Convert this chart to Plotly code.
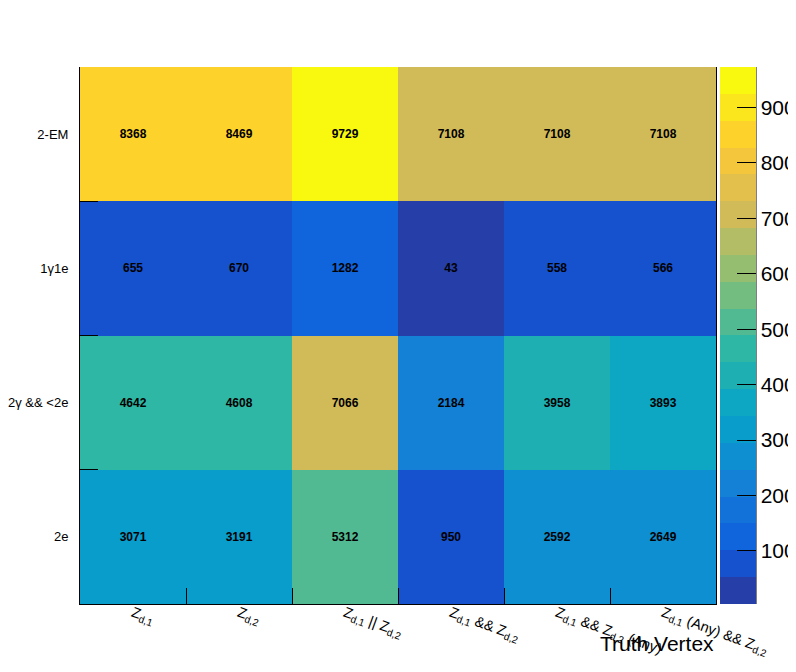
import numpy as np
import plotly.graph_objects as go

# ---- data -------------------------------------------------------------
x_labels = [
    "Z<sub>d,1</sub>",
    "Z<sub>d,2</sub>",
    "Z<sub>d,1</sub> || Z<sub>d,2</sub>",
    "Z<sub>d,1</sub> && Z<sub>d,2</sub>",
    "Z<sub>d,1</sub> && Z<sub>d,2</sub> (Any)",
    "Z<sub>d,1</sub> (Any) && Z<sub>d,2</sub>",
]
y_labels = ["2e", "2γ && <2e", "1γ1e", "2-EM"]  # bottom -> top

row_2e = [3071, 3191, 5312, 950, 2592, 2649]
row_2g_lt2e = [4642, 4608, 7066, 2184, 3958, 3893]
row_1g1e = [655, 670, 1282, 43, 558, 566]
row_2em = [8368, 8469, 9729, 7108, 7108, 7108]

counts = np.array([row_2e, row_2g_lt2e, row_1g1e, row_2em])
# colour axis is shown in units of 10 counts (0 .. ~973)
zvals = counts / 10.0

# ---- ROOT kBird palette, 20 discrete contour levels ---------------------
stops = [0.0000, 0.1250, 0.2500, 0.3750, 0.5000, 0.6250, 0.7500, 0.8750, 1.0000]
red = [0.2082, 0.0592, 0.0780, 0.0232, 0.1802, 0.5301, 0.8186, 0.9956, 0.9764]
green = [0.1664, 0.3599, 0.5041, 0.6419, 0.7178, 0.7492, 0.7328, 0.7862, 0.9832]
blue = [0.5293, 0.8684, 0.8385, 0.7914, 0.6425, 0.4662, 0.3499, 0.1968, 0.0539]
NCOL = 255
starts = [int(np.floor(NCOL * s)) for s in stops]


def palette_color(p):
    for g in range(1, len(stops)):
        if starts[g - 1] <= p < starts[g] or g == len(stops) - 1:
            n = starts[g] - starts[g - 1]
            c = p - starts[g - 1]
            r = red[g - 1] + c * (red[g] - red[g - 1]) / n
            gg = green[g - 1] + c * (green[g] - green[g - 1]) / n
            b = blue[g - 1] + c * (blue[g] - blue[g - 1]) / n
            return "rgb(%d,%d,%d)" % (round(r * 255), round(gg * 255), round(b * 255))


NDIV = 20
colorscale = []
for k in range(NDIV):
    idx = min(int((k + 0.99) * NCOL / NDIV), NCOL - 1)
    col = palette_color(idx)
    colorscale.append([k / NDIV, col])
    colorscale.append([(k + 1) / NDIV, col])

FONT = "Liberation Sans, Arial, Helvetica, sans-serif"

# ---- geometry (pixels); page body has an 8px margin ------------------------
OFF = 8
W, H = 796 - OFF, 672 - OFF
L, T = 80 - OFF, 67 - OFF
R = W - (716 - OFF)
B = H - (604 - OFF)
plot_w = W - L - R
plot_h = H - T - B

fig = go.Figure(
    go.Heatmap(
        z=zvals,
        x=x_labels,
        y=y_labels,
        text=counts,
        texttemplate="<b>%{text}</b>",
        textfont=dict(family=FONT, size=12, color="black"),
        colorscale=colorscale,
        zmin=zvals.min(),
        zmax=zvals.max(),
        xgap=0,
        ygap=0,
        colorbar=dict(
            x=1 + 4 / plot_w,
            xanchor="left",
            xpad=0,
            ypad=0,
            y=0.5,
            yanchor="middle",
            len=1,
            lenmode="fraction",
            thickness=36,
            thicknessmode="pixels",
            outlinewidth=0,
            ticks="inside",
            ticklen=19,
            tickwidth=1,
            tickcolor="black",
            tick0=0,
            dtick=100,
            tickfont=dict(family=FONT, size=21, color="black"),
        ),
        hoverongaps=False,
    )
)

fig.update_xaxes(
    type="category",
    tickson="boundaries",
    ticks="inside",
    ticklen=16,
    tickcolor="black",
    tickangle=20,
    ticklabelstandoff=-6,
    tickfont=dict(family=FONT, size=14.5, color="black"),
    showline=True,
    linecolor="black",
    linewidth=1,
    mirror=False,
    showgrid=False,
    zeroline=False,
)
fig.update_yaxes(
    type="category",
    tickson="boundaries",
    ticks="inside",
    ticklen=18,
    tickcolor="black",
    tickfont=dict(family=FONT, size=13, color="black"),
    ticklabelstandoff=8,
    showline=True,
    linecolor="black",
    linewidth=1,
    mirror=True,
    showgrid=False,
    zeroline=False,
)

# colour bar right-edge line (as in ROOT palette axis)
fig.add_shape(
    type="line",
    xref="paper",
    yref="paper",
    x0=1 + 40 / plot_w,
    x1=1 + 40 / plot_w,
    y0=0,
    y1=1,
    line=dict(color="black", width=1),
)

# x-axis title, right-aligned at axis end
fig.add_annotation(
    text="Truth Vertex",
    xref="paper",
    yref="paper",
    x=1,
    y=-(643 - 604) / plot_h,
    xanchor="right",
    yanchor="middle",
    showarrow=False,
    font=dict(family=FONT, size=21, color="black"),
)

fig.update_layout(
    width=W,
    height=H,
    margin=dict(l=L, r=R, t=T, b=B, autoexpand=False),
    paper_bgcolor="white",
    plot_bgcolor="white",
    font=dict(family=FONT, color="black"),
    showlegend=False,
)

fig.write_html("out.html")
